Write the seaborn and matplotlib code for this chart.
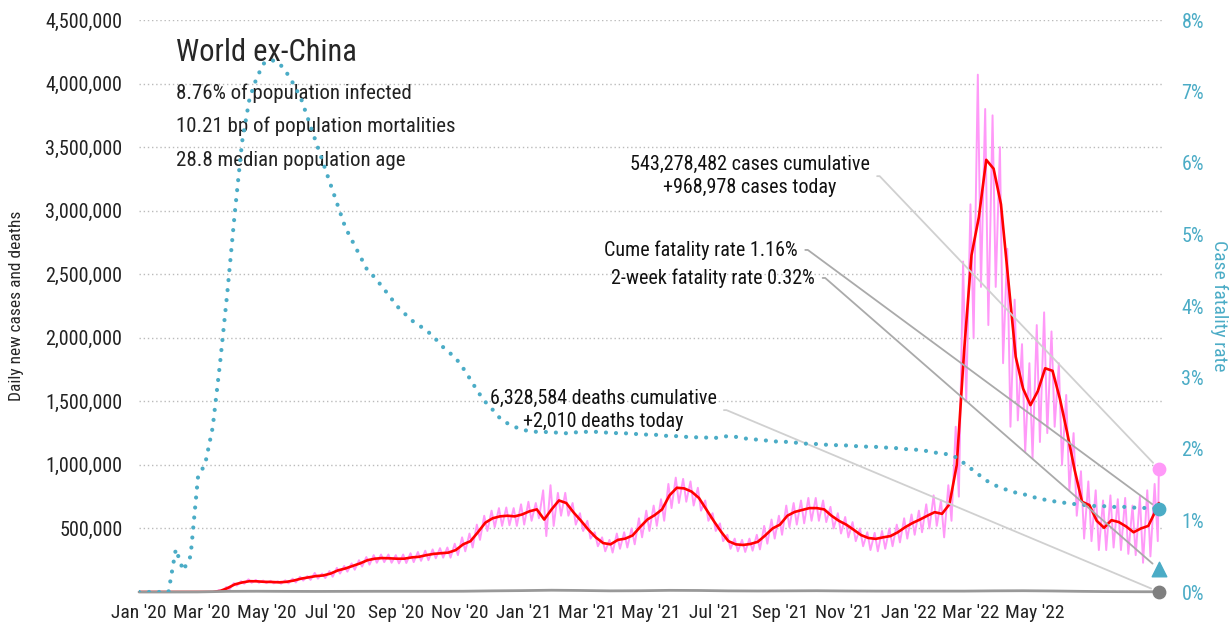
import pandas as pd
import matplotlib
matplotlib.use("Agg")
import matplotlib.pyplot as plt
import matplotlib.ticker as mticker
import seaborn as sns

# ── data ────────────────────────────────────────────────────
start = pd.Timestamp("2020-01-01")

# 7-day average of daily new cases, thousands, one value per week from start
avg_cases_k = [
    0, 0, 0, 0, 0, 0, 0, 0, 0, 0,
    0, 8, 30, 60, 75, 85, 84, 80, 79, 76,
    80, 90, 105, 115, 125, 130, 145, 170, 185, 205,
    225, 250, 262, 267, 265, 262, 262, 272, 277, 290,
    300, 305, 310, 330, 375, 400, 470, 545, 580, 595,
    600, 595, 610, 635, 650, 570, 650, 720, 700, 625,
    560, 490, 430, 385, 375, 410, 420, 445, 510, 570,
    605, 650, 760, 820, 815, 790, 740, 650, 560, 475,
    400, 375, 370, 378, 395, 445, 500, 530, 600, 630,
    645, 660, 660, 650, 600, 560, 530, 490, 448, 425,
    418, 430, 440, 470, 510, 543, 570, 600, 628, 615,
    690, 1000, 1900, 2650, 2950, 3400, 3330, 3050, 2450, 1850,
    1600, 1470, 1580, 1760, 1740, 1520, 1250, 960, 710, 684,
    560, 505, 565, 550, 515, 470, 500, 520, 640,
]
avg_cases_last_k = 700

# daily new cases, weekly highs and lows (thousands), weeks 10..138
first_daily_week = 10
daily_hi_k = [
    0, 15, 40, 70, 85, 100, 95, 90, 88, 85,
    92, 105, 120, 125, 150, 145, 165, 190, 205, 225,
    250, 275, 290, 295, 295, 290, 295, 305, 315, 325,
    335, 345, 350, 380, 430, 460, 530, 600, 640, 660,
    665, 660, 690, 710, 700, 800, 840, 780, 780, 700,
    620, 560, 470, 430, 410, 460, 470, 500, 580, 640,
    680, 730, 850, 900, 890, 870, 820, 720, 620, 540,
    450, 420, 410, 420, 450, 520, 570, 600, 680, 700,
    720, 740, 740, 720, 670, 620, 590, 550, 500, 470,
    465, 480, 500, 530, 580, 610, 640, 690, 760, 720,
    840, 1300, 2600, 3050, 4070, 3800, 3750, 3500, 2700, 2300,
    1950, 1800, 2100, 2200, 2050, 1800, 1550, 1250, 950, 870,
    800, 720, 760, 730, 740, 680, 750, 800, 850,
]
daily_lo_k = [
    0, 0, 20, 50, 65, 72, 72, 70, 68, 65,
    68, 75, 90, 95, 105, 110, 120, 145, 160, 175,
    200, 215, 230, 235, 230, 225, 228, 235, 245, 250,
    265, 270, 270, 290, 320, 350, 410, 480, 510, 520,
    525, 520, 530, 560, 580, 440, 520, 600, 600, 530,
    480, 420, 360, 320, 310, 340, 350, 375, 430, 480,
    520, 560, 660, 700, 710, 680, 640, 560, 480, 400,
    340, 320, 315, 325, 335, 380, 420, 450, 510, 530,
    540, 560, 560, 550, 500, 460, 430, 400, 360, 330,
    320, 340, 360, 390, 420, 450, 470, 500, 520, 430,
    560, 750, 1500, 2000, 2400, 2100, 2400, 1800, 1300, 1350,
    1100, 1050, 1180, 1250, 1300, 1000, 800, 600, 420, 400,
    330, 330, 350, 330, 300, 290, 230, 280, 400,
]

# daily deaths, thousands, one value every 4 weeks
deaths_k = [
    0, 0, 0.5, 5, 6, 5, 4.5, 5, 5.5, 5.5,
    5.5, 6, 9, 11, 14, 12, 9, 10, 13, 12,
    9, 8, 9, 10, 8, 7, 7, 7, 7, 9,
    10, 8, 5, 3, 2,
]

# case fatality rate, %, one value per week
cfr_pct = [
    0, 0, 0, 0, 0, 0.6, 0.3, 0.5, 1.6, 1.8,
    2.3, 3.2, 4.2, 5.3, 6.3, 6.9, 7.2, 7.4, 7.44, 7.4,
    7.27, 7.1, 6.9, 6.6, 6.3, 6.0, 5.7, 5.4, 5.1, 4.9,
    4.7, 4.5, 4.4, 4.27, 4.14, 4.0, 3.9, 3.8, 3.73, 3.66,
    3.57, 3.45, 3.36, 3.27, 3.13, 2.97, 2.8, 2.66, 2.55, 2.43,
    2.36, 2.31, 2.27, 2.25, 2.24, 2.24, 2.23, 2.23, 2.22, 2.23,
    2.24, 2.24, 2.24, 2.23, 2.23, 2.22, 2.22, 2.21, 2.21, 2.2,
    2.2, 2.19, 2.18, 2.18, 2.17, 2.17, 2.16, 2.16, 2.15, 2.17,
    2.18, 2.17, 2.15, 2.14, 2.13, 2.12, 2.11, 2.1, 2.1, 2.09,
    2.08, 2.07, 2.07, 2.06, 2.06, 2.05, 2.05, 2.04, 2.04, 2.03,
    2.03, 2.02, 2.02, 2.01, 2.0, 1.99, 1.99, 1.97, 1.95, 1.94,
    1.92, 1.88, 1.8, 1.72, 1.64, 1.56, 1.5, 1.46, 1.42, 1.39,
    1.37, 1.34, 1.31, 1.29, 1.27, 1.26, 1.24, 1.23, 1.22, 1.21,
    1.2, 1.2, 1.19, 1.19, 1.19, 1.18, 1.18, 1.17, 1.17,
]

last_day = 969
today_cases = 968978
today_deaths = 2010
cume_cfr = 1.16
two_week_cfr = 0.32

tick_dates = ["2020-01-01", "2020-03-01", "2020-05-01", "2020-07-01", "2020-09-01",
              "2020-11-01", "2021-01-01", "2021-03-01", "2021-05-01", "2021-07-01",
              "2021-09-01", "2021-11-01", "2022-01-01", "2022-03-01", "2022-05-01"]
tick_labels = ["Jan '20", "Mar '20", "May '20", "Jul '20", "Sep '20", "Nov '20",
               "Jan '21", "Mar '21", "May '21", "Jul '21", "Sep '21", "Nov '21",
               "Jan '22", "Mar '22", "May '22"]

title = "World ex-China"
facts = ["8.76% of population infected",
         "10.21 bp of population mortalities",
         "28.8 median population age"]

# ── tidy frames ─────────────────────────────────────────────
def day(n):
    return start + pd.Timedelta(days=int(n))

last_date = day(last_day)

avg_df = pd.DataFrame({
    "date": [day(7 * k) for k in range(len(avg_cases_k))] + [last_date],
    "cases": [v * 1000 for v in avg_cases_k] + [avg_cases_last_k * 1000],
})

daily_dates, daily_vals = [], []
for i, (hi, lo) in enumerate(zip(daily_hi_k, daily_lo_k)):
    k = first_daily_week + i
    daily_dates += [day(7 * k - 1), day(7 * k + 2)]
    daily_vals += [hi * 1000, lo * 1000]
daily_df = pd.DataFrame({"date": [start] + daily_dates + [last_date],
                         "cases": [0] + daily_vals + [today_cases]})

deaths_df = pd.DataFrame({
    "date": [day(28 * j) for j in range(len(deaths_k))] + [last_date],
    "deaths": [v * 1000 for v in deaths_k] + [today_deaths],
})

cfr_df = pd.DataFrame({
    "date": [day(7 * k) for k in range(len(cfr_pct))] + [last_date],
    "cfr": cfr_pct + [cume_cfr],
})

# ── style ───────────────────────────────────────────────────
sns.set_theme(style="white")
plt.rcParams["font.family"] = ["Liberation Sans Narrow", "Roboto Condensed",
                               "DejaVu Sans Condensed", "DejaVu Sans"]
plt.rcParams["font.stretch"] = "condensed"

PINK = "#ff99f8"
RED = "#ff0000"
TEAL = "#4bacc6"
GREY = "#999999"

fig = plt.figure(figsize=(12.32, 6.33), dpi=100)
ax = fig.add_axes([139 / 1232, 41 / 633, 1023 / 1232, 572 / 633])
ax2 = ax.twinx()

sns.lineplot(data=daily_df, x="date", y="cases", ax=ax, color=PINK, lw=1.4,
             zorder=2)
sns.lineplot(data=avg_df, x="date", y="cases", ax=ax, color=RED, lw=1.9,
             zorder=3)
sns.lineplot(data=deaths_df, x="date", y="deaths", ax=ax, color=GREY, lw=2,
             zorder=3, clip_on=False)
sns.lineplot(data=cfr_df, x="date", y="cfr", ax=ax2, color=TEAL, lw=3,
             linestyle=(0, (0.01, 2.4)), dash_capstyle="round")

# end-point markers
ax.scatter([last_date], [today_cases], s=80, color=PINK, zorder=5, clip_on=False)
ax.scatter([last_date], [today_deaths], s=80, color="#7f7f7f", zorder=5,
           clip_on=False)
ax2.scatter([last_date], [cume_cfr], s=80, color=TEAL, zorder=5, clip_on=False)
ax2.scatter([last_date], [two_week_cfr], s=110, marker="^", color=TEAL,
            zorder=5, clip_on=False)

# ── axes ────────────────────────────────────────────────────
x0, x1 = start, start + pd.Timedelta(days=972)
ax.set_xlim(x0, x1)
ax.set_ylim(0, 4500000)
ax2.set_ylim(0, 8)

ax.set_yticks(range(500000, 4500001, 500000))
ax.yaxis.set_major_formatter(mticker.FuncFormatter(lambda v, p: f"{v:,.0f}"))
ax.set_xticks([pd.Timestamp(d) for d in tick_dates])
ax.set_xticklabels(tick_labels)
ax2.set_yticks(range(0, 9))
ax2.yaxis.set_major_formatter(mticker.FuncFormatter(lambda v, p: f"{v:.0f}%"))

ax.tick_params(axis="y", length=0, pad=12, labelsize=14.5, labelcolor="#222222")
ax.tick_params(axis="x", length=0, pad=9, labelsize=14, labelcolor="#222222")
ax2.tick_params(axis="y", length=0, pad=14, labelsize=14.5, labelcolor=TEAL)

ax.grid(axis="y", color="#bbbbbb", linestyle=(0, (1, 2)), lw=1)
ax.grid(axis="x", visible=False)
ax2.grid(False)
for a in (ax, ax2):
    for s in a.spines.values():
        s.set_visible(False)

ax.set_xlabel("")
ax.set_ylabel("Daily new cases and deaths", fontsize=12.5, labelpad=15)
ax2.set_ylabel("Case fatality rate", fontsize=14, color=TEAL, rotation=270,
               labelpad=17)

# ── text block ──────────────────────────────────────────────
ax.text(0.036, 0.944, title, transform=ax.transAxes, fontsize=22,
        va="center", ha="left")
for i, line in enumerate(facts):
    ax.text(0.036, 0.872 - i * 0.0585, line, transform=ax.transAxes,
            fontsize=15, va="center", ha="left", color="#222222")

# ── leader annotations ──────────────────────────────────────
def leader(a, xy, text, pos, ha, color):
    a.annotate(text, xy=xy, xytext=pos, textcoords=ax.transAxes,
               ha=ha, va="center", fontsize=14.5, color="#111111",
               multialignment="center", linespacing=1.25,
               arrowprops=dict(arrowstyle="-", color=color, lw=1.3,
                               relpos=(1, 0.5), shrinkA=3, shrinkB=6,
                               connectionstyle="arc,angleA=0,armA=10,rad=0"))

leader(ax, (last_date, today_cases),
       "543,278,482 cases cumulative\n+968,978 cases today",
       (0.597, 0.727), "center", "#d0d0d0")
leader(ax2, (last_date, cume_cfr), "Cume fatality rate 1.16%",
       (0.644, 0.598), "right", "#aaaaaa")
leader(ax2, (last_date, two_week_cfr), "2-week fatality rate 0.32%",
       (0.661, 0.549), "right", "#aaaaaa")
leader(ax, (last_date, today_deaths),
       "6,328,584 deaths cumulative\n+2,010 deaths today",
       (0.4536, 0.318), "center", "#d0d0d0")

fig.savefig("out.png", dpi=100)
plt.close(fig)
